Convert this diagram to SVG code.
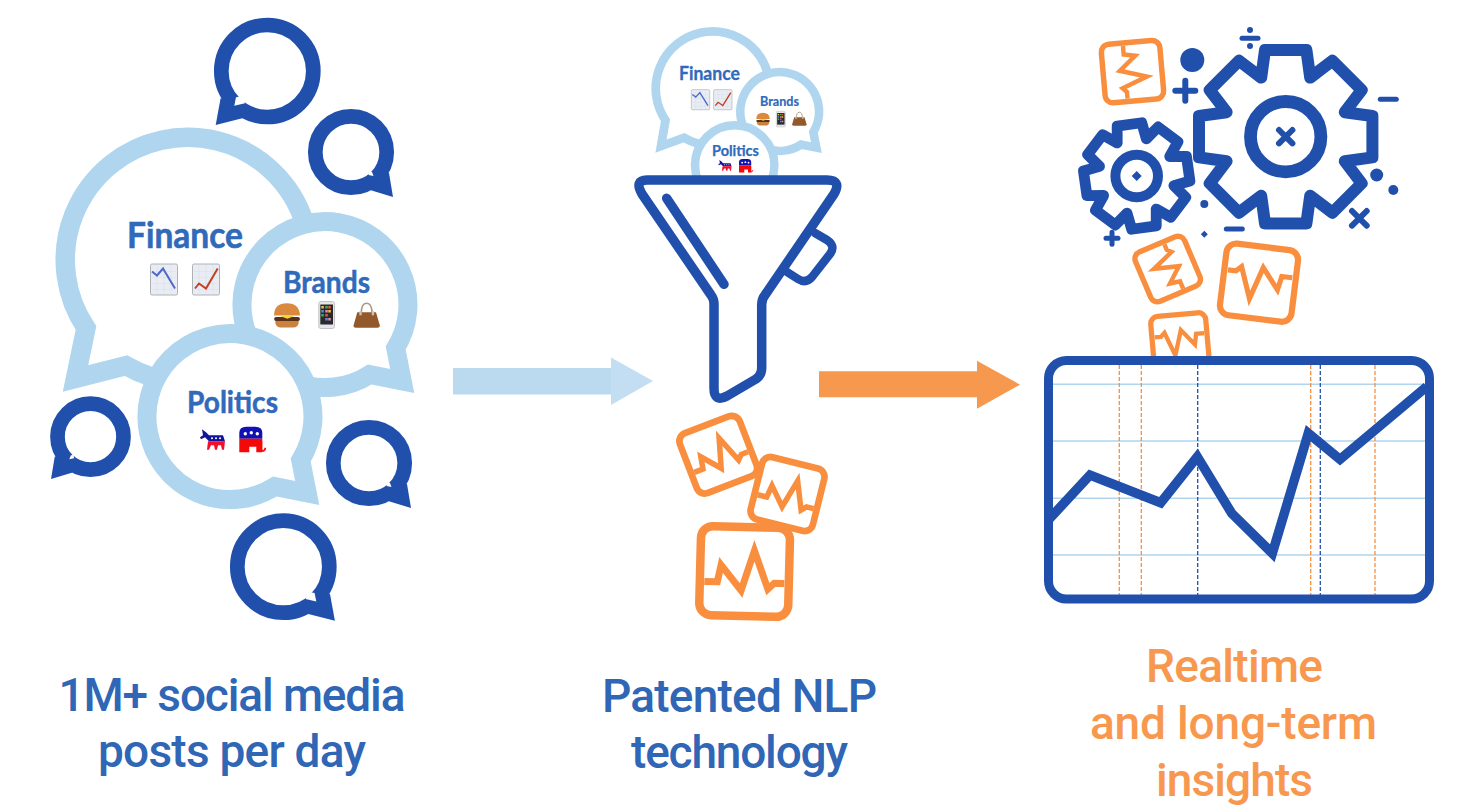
<svg xmlns="http://www.w3.org/2000/svg" width="1466" height="806" viewBox="0 0 1466 806">
<style>
.lb{fill:#fff;stroke:#afd5ef;stroke-miterlimit:10}
.ring{fill:#fff;stroke:#2050ab;stroke-width:14.7}
.dk{fill:#2050ab}
.wh{fill:#fff}
.ln{fill:none;stroke:#2050ab;stroke-linecap:round;stroke-linejoin:round}
.tile rect{fill:none;stroke:#f98f3e;stroke-width:var(--w,8)}
.tile polyline{fill:none;stroke:#f98f3e;stroke-width:calc(var(--w,8)*.82);stroke-miterlimit:8}
.cap{font-family:"Roboto","Liberation Sans",sans-serif;font-size:46px;font-weight:500;text-anchor:middle}
.blue{fill:#2f66b5}
.or{fill:#f7984e}
.lab{font-family:"Lato","Noto Sans",sans-serif;font-weight:700;fill:#2f6abb;stroke:#2f6abb;text-anchor:middle}
.h{stroke:#afd5ef;stroke-width:1.5}
.vo{stroke:#f98f3e;stroke-width:1.3;stroke-dasharray:4 2}
.vb{stroke:#2050ab;stroke-width:1.3;stroke-dasharray:4 2}
</style>
<defs>
<g id="tailL"><polygon class="dk" points="46.7,27.3 51.6,54 25,47.3 30,30"/><polygon class="wh" points="31.3,26.3 33,34.7 22.3,32.3 25,25"/></g>
<g id="tailS"><polygon class="dk" points="38,21 42,45 19,38 23,23"/><polygon class="wh" points="21,20 22.5,24 17.5,23 18,19"/></g>
<g id="tile" class="tile"><rect x="-44.5" y="-44.5" width="89" height="89" rx="12"/><polyline points="-40,11 -27,11 -23.7,-6 -3,19 9.3,-21 23.7,17 30,11 40,11"/></g>
<path id="gear" class="ln" d="M-20.7 -86.7L20.7 -86.7 24.5 -59.1 46.67 -75.94 75.94 -46.67 59.1 -24.5 86.7 -20.7 86.7 20.7 59.1 24.5 75.94 46.67 46.67 75.94 24.5 59.1 20.7 86.7 -20.7 86.7 -24.5 59.1 -46.67 75.94 -75.94 46.67 -59.1 24.5 -86.7 20.7 -86.7 -20.7 -59.1 -24.5 -75.94 -46.67 -46.67 -75.94 -24.5 -59.1Z"/>
<g id="chartBox"><rect x=".5" y=".5" width="27" height="31" rx="1.5" fill="#e9edf3" stroke="#aeb2b6"/><path d="M2 8H26M2 14H26M2 20H26M2 26H26M7 2V30M14 2V30M21 2V30" stroke="#d6dcea" stroke-width=".5" fill="none"/></g>
<g id="chartDown"><use href="#chartBox"/><polyline points="2,8 7,12 13,5 25,25" fill="none" stroke="#5068cc" stroke-width="2"/></g>
<g id="chartUp"><use href="#chartBox"/><polyline points="3,25 7,20 14,25 25.7,5" fill="none" stroke="#c0401f" stroke-width="2"/></g>
<g id="burger"><path d="M1 11Q1 0 12.6 0Q24 0 24.5 11Z" fill="#d98a3f"/><rect x="1" y="12.5" width="23.5" height="3.6" rx="1.8" fill="#5a3116"/><path d="M5 11H21L13 14Z" fill="#f2d33c"/><path d="M2 16H23.5Q23.5 22 18 22H7.5Q2 22 2 16Z" fill="#c9823f"/></g>
<g id="phone"><rect x=".5" y=".5" width="15.7" height="27" rx="2" fill="#e4e6ea" stroke="#c4c4c4"/><rect x="2" y="3.5" width="12.7" height="20" fill="#2a2a2e"/><path d="M3 5h2.500v2.500H3zM10 9h2.500v2.500H10z" fill="#f2c43c"/><path d="M7 5h2.500v2.500H7zM3 13h2.500v2.500H3z" fill="#3fae5a"/><path d="M10 5h2.500v2.500H10zM7 13h2.500v2.500H7z" fill="#e2563f"/><path d="M3 9h2.500v2.500H3zM7 17h2.500v2.500H7z" fill="#4a90d9"/><path d="M7 9h2.500v2.500H7zM10 17h2.500v2.500H10z" fill="#e58ab0"/></g>
<g id="bag"><path d="M8 11Q8 1 13.300 1Q18.700 1 18.700 11" fill="none" stroke="#a89880" stroke-width="1.600"/><path d="M4 10H22.700L26.500 23Q26.500 25.500 24 25.500H2.700Q0 25.500 .3 23Z" fill="#94592a"/><rect x="6" y="9" width="2.400" height="4" fill="#c8c4bc"/><rect x="18.400" y="9" width="2.400" height="4" fill="#c8c4bc"/></g>
<g id="donkey"><path d="M0 8L3 6 2 0 6 3 9 6H23L25 12H9L8 11 5 8 1 10Z" fill="#12129a"/><path d="M8 12H25L24 20.500H22L21 16H18L17 20.500H15L14 16H11L9 20.500H7Z" fill="#f0102a"/><circle cx="12" cy="9" r="1" fill="#fff"/><circle cx="16" cy="9" r="1" fill="#fff"/><circle cx="20" cy="9" r="1" fill="#fff"/></g>
<g id="elephant"><path d="M0 12V6Q0 0 7 0H16Q23 0 23 6V12Z" fill="#1212b4"/><path d="M0 12H23V25.500H17V20H10V25.500H0Z" fill="#f40808"/><path d="M22 14V22Q22 25 24.500 24Q26 23.500 26 21" fill="none" stroke="#f40808" stroke-width="1.800"/><circle cx="6" cy="7" r="1.700" fill="#fff"/><circle cx="12" cy="6" r="1.700" fill="#fff"/><circle cx="18" cy="7" r="1.700" fill="#fff"/></g>
</defs>

<g id="connectors">
<polygon points="453,368 611,368 611,394.500 453,394.500" fill="#bbdaf0"/>
<polygon points="611,357.500 653,381 611,405" fill="#c3def2"/>
<polygon points="819,371.300 977,371.300 977,360.700 1020,384.700 977,408.700 977,397.300 819,397.300" fill="#f6984e"/>
</g>

<g id="post-top"><circle class="ring" cx="267.300" cy="71" r="46"/><use href="#tailL" transform="translate(267.300,71) scale(-1,1)"/></g>
<g id="post-upper-right"><circle class="ring" cx="351" cy="152" r="35.700"/><use href="#tailS" transform="translate(351,152)"/></g>
<g id="post-lower-left"><circle class="ring" cx="90.500" cy="436.700" r="33"/><use href="#tailS" transform="translate(90.500,436.700) scale(-.94,.94)"/></g>
<g id="post-lower-right"><circle class="ring" cx="369" cy="463" r="35.700"/><use href="#tailS" transform="translate(369,463)"/></g>
<g id="post-bottom"><circle class="ring" cx="283.300" cy="566.700" r="46"/><use href="#tailL" transform="translate(283.300,566.700)"/></g>

<g id="finance">
<path class="lb" stroke-width="19.500" d="M86 328L75.500 378.500 126 365.600A122.500 122.500 0 1 0 86 328Z"/>
<text class="lab" x="185" y="248" font-size="36" stroke-width=".6" textLength="116" lengthAdjust="spacingAndGlyphs">Finance</text>
<use href="#chartDown" transform="translate(150,263.500)"/>
<use href="#chartUp" transform="translate(192,263.500)"/>
</g>
<g id="brands">
<path class="lb" stroke-width="19" transform="translate(.7,0)" d="M395 348L401.500 381 369 374.500A83 83 0 1 1 395 348Z"/>
<text class="lab" x="326.500" y="293" font-size="30" stroke-width=".5" textLength="87" lengthAdjust="spacingAndGlyphs">Brands</text>
<use href="#burger" transform="translate(273,303.300) scale(1.1)"/>
<use href="#phone" transform="translate(318.300,301)"/>
<use href="#bag" transform="translate(353.300,302.300)"/>
</g>
<g id="politics">
<path class="lb" stroke-width="19" transform="translate(.7,0)" d="M300 460L306.500 493 274 486.500A83 83 0 1 1 300 460Z"/>
<text class="lab" x="232.500" y="413" font-size="30" stroke-width=".5" textLength="91" lengthAdjust="spacingAndGlyphs">Politics</text>
<use href="#donkey" transform="translate(200,429.300)"/>
<use href="#elephant" transform="translate(239.300,426.700)"/>
</g>

<g id="finance-small">
<path class="lb" stroke-width="8.700" d="M665.500 120.300L661 146 684.100 137.700A57 57 0 1 0 665.500 120.300Z"/>
<text class="lab" x="709.500" y="80" font-size="18" stroke-width=".3" textLength="61" lengthAdjust="spacingAndGlyphs">Finance</text>
<use href="#chartDown" transform="translate(691,89.300) scale(.68,.65)"/>
<use href="#chartUp" transform="translate(713.300,89.300) scale(.68,.65)"/>
</g>
<g id="brands-small">
<path class="lb" stroke-width="8.500" d="M813.300 132L816.400 147.700 801 144.600A39.400 39.400 0 1 1 813.300 132Z"/>
<text class="lab" x="779.500" y="106" font-size="12.500" stroke-width=".2" textLength="39" lengthAdjust="spacingAndGlyphs">Brands</text>
<use href="#burger" transform="translate(755.700,112.700) scale(.577)"/>
<use href="#phone" transform="translate(776,111) scale(.58)"/>
<use href="#bag" transform="translate(792,111.700) scale(.55)"/>
</g>
<g id="politics-small">
<circle class="lb" stroke-width="8.500" cx="734.700" cy="165" r="39.700"/>
<text class="lab" x="735.500" y="156" font-size="15" stroke-width=".25" textLength="47" lengthAdjust="spacingAndGlyphs">Politics</text>
<use href="#donkey" transform="translate(718.300,160) scale(.53)"/>
<use href="#elephant" transform="translate(739,159) scale(.53)"/>
</g>

<g id="funnel">
<path class="ln" style="fill:#fff" stroke-width="9.500" d="M647 180H827Q842 180 834 194L765 295Q761.700 299 761.700 305V368Q761.700 375 756 379L727 396Q714 403 714 388V304Q714 299 711 295L642 194Q634 180 647 180Z"/>
<path class="ln" stroke-width="9.500" d="M666.700 198.300L724 284.300"/>
<path class="ln" stroke-width="8.500" d="M815 233L827 240Q836 246 830 254L812 277Q806 284 798 279L787 272"/>
</g>

<g id="tile-out-1"><use href="#tile" style="--w:9.300" transform="translate(718.300,454.700) rotate(-21) scale(.72)"/></g>
<g id="tile-out-2"><use href="#tile" style="--w:9.300" transform="translate(787.500,494) rotate(14) scale(.72)"/></g>
<g id="tile-out-3"><use href="#tile" style="--w:8.500" transform="translate(744.600,571.500) rotate(1.500)"/></g>

<g id="gears">
<use href="#gear" transform="translate(1285.700,136.700)" stroke-width="12"/>
<circle cx="1285.700" cy="136.700" r="35.200" fill="none" stroke="#2050ab" stroke-width="12.800"/>
<path class="ln" stroke-width="6" d="M1279 130L1292.400 143.400M1292.400 130L1279 143.400"/>
<use href="#gear" transform="translate(1136.700,176) rotate(-8) scale(.6)" stroke-width="18"/>
<circle cx="1136.700" cy="176" r="21.300" fill="none" stroke="#2050ab" stroke-width="10"/>
<polygon class="dk" points="1136.700,171 1141.700,176 1136.700,181 1131.700,176"/>
<circle class="dk" cx="1192.300" cy="60" r="12"/>
<path class="ln" stroke-width="6" d="M1175.300 90.700H1195.300M1185.300 80.700V100.700"/>
<path class="ln" stroke-width="5" d="M1242 38.300H1258"/>
<circle class="dk" cx="1250" cy="30" r="3"/><circle class="dk" cx="1250" cy="46" r="3"/>
<path class="ln" stroke-width="5" d="M1380.300 99.300H1396.300"/>
<circle class="dk" cx="1376.700" cy="175" r="6.500"/><circle class="dk" cx="1393.300" cy="190" r="5"/>
<path class="ln" stroke-width="6" d="M1352 211L1366.700 225.700M1366.700 211L1352 225.700"/>
<circle class="dk" cx="1204.300" cy="204" r="4"/>
<polygon class="dk" points="1204.300,230.800 1207.800,234.300 1204.300,237.800 1200.800,234.300"/>
<path class="ln" stroke-width="5" d="M1226.300 229H1242.300"/>
<path class="ln" stroke-width="5" d="M1106 238.300H1118M1112 232.300V244.300"/>
</g>

<g id="tile-in-1"><use href="#tile" style="--w:8.300" transform="translate(1132.500,71.700) rotate(85) scale(.66)"/></g>
<g id="tile-in-2"><use href="#tile" style="--w:9" transform="translate(1167.700,269) rotate(-113) scale(.6)"/></g>
<g id="tile-in-3"><use href="#tile" style="--w:7.700" transform="translate(1259,282.700) rotate(187) scale(.81)"/></g>
<g id="tile-in-4"><use href="#tile" style="--w:8.500" transform="translate(1180,342) rotate(175) scale(.62)"/></g>

<g id="chart">
<rect x="1048.500" y="360.500" width="381" height="238.500" rx="18" fill="#fff"/>
<path class="h" d="M1052 384.300H1426M1052 441H1426M1052 498.300H1426M1052 555H1426"/>
<path class="vo" d="M1119.300 365V599M1141.300 365V599M1310.700 365V599M1375 365V599"/>
<path class="vb" d="M1197.700 365V599M1320.300 365V599"/>
<polyline points="1048.300,520 1090,475 1160.700,502.700 1197.300,456.700 1231.700,513.300 1272.300,553.300 1308.300,433.300 1340,459.300 1426.700,386.700" fill="none" stroke="#2050ab" stroke-width="9.500" stroke-miterlimit="6"/>
<rect x="1048.500" y="360.500" width="381" height="238.500" rx="18" fill="none" stroke="#2050ab" stroke-width="9"/>
</g>

<g id="captions">
<text class="cap blue" x="232" y="711" textLength="347">1M+ social media</text>
<text class="cap blue" x="232" y="767" textLength="268">posts per day</text>
<text class="cap blue" x="739.500" y="712" textLength="275">Patented NLP</text>
<text class="cap blue" x="739.500" y="768" textLength="217">technology</text>
<text class="cap or" x="1234.500" y="682" textLength="177">Realtime</text>
<text class="cap or" x="1233.500" y="739" textLength="287">and long-term</text>
<text class="cap or" x="1234.500" y="796" textLength="157">insights</text>
</g>
</svg>
